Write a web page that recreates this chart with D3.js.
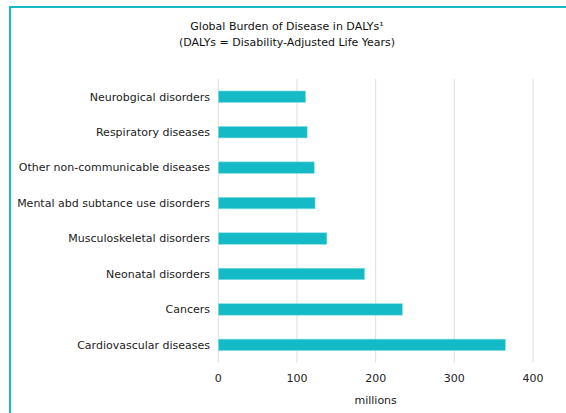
<!DOCTYPE html>
<html>
<head>
<meta charset="utf-8">
<script src="https://cdn.jsdelivr.net/npm/d3@7"></script>
<style>
  html, body { margin: 0; padding: 0; background: #fff; }
  svg { display: block; font-family: "DejaVu Sans", sans-serif; }
</style>
</head>
<body>
<svg id="chart" width="566" height="413"></svg>
<script>
// Causes of disease burden, listed top to bottom
const causes = [
  "Neurobgical disorders",
  "Respiratory diseases",
  "Other non-communicable diseases",
  "Mental abd subtance use disorders",
  "Musculoskeletal disorders",
  "Neonatal disorders",
  "Cancers",
  "Cardiovascular diseases"
];
// DALYs, millions
const dalys = [111, 113, 122, 123, 138, 186, 234, 365];
const xTicks = [0, 100, 200, 300, 400];
const titleLines = ["Global Burden of Disease in DALYs\u00B9", "(DALYs = Disability-Adjusted Life Years)"];
const xLabel = "millions";

const svg = d3.select("#chart");
const teal = "#14bac6";

// Frame around the panel
svg.append("rect")
  .attr("x", 10).attr("y", 7)
  .attr("width", 600).attr("height", 450)
  .attr("fill", "none").attr("stroke", teal).attr("stroke-width", 2);

const x = d3.scaleLinear().domain([0, 400]).range([218.3, 533]);
const y = d3.scaleBand().domain(causes).range([79, 362.6])
  .paddingInner(0.675).paddingOuter(0.3375);

// Vertical gridlines
svg.append("g").selectAll("line").data(xTicks).join("line")
  .attr("x1", d => x(d)).attr("x2", d => x(d))
  .attr("y1", 79).attr("y2", 362.6)
  .attr("stroke", "#dedede").attr("stroke-width", 1);

// Bars
svg.append("g").selectAll("rect").data(dalys).join("rect")
  .attr("x", x(0))
  .attr("y", (d, i) => y(causes[i]))
  .attr("width", d => x(d) - x(0))
  .attr("height", y.bandwidth())
  .attr("fill", teal)
  .attr("stroke", "#8ee0e6").attr("stroke-width", 0.6);

// Category labels
svg.append("g").selectAll("text").data(causes).join("text")
  .attr("x", 210)
  .attr("y", d => y(d) + y.bandwidth() / 2)
  .attr("dy", "0.35em")
  .attr("text-anchor", "end")
  .attr("font-size", 11)
  .attr("fill", "#222")
  .text(d => d);

// Tick labels
svg.append("g").selectAll("text").data(xTicks).join("text")
  .attr("x", d => x(d))
  .attr("y", 382)
  .attr("text-anchor", "middle")
  .attr("font-size", 11)
  .attr("fill", "#222")
  .text(d => d);

// Axis title
svg.append("text")
  .attr("x", x(200)).attr("y", 404)
  .attr("text-anchor", "middle")
  .attr("font-size", 11).attr("fill", "#222")
  .text(xLabel);

// Chart title
svg.append("g").selectAll("text").data(titleLines).join("text")
  .attr("x", 287)
  .attr("y", (d, i) => 30 + i * 15.5)
  .attr("text-anchor", "middle")
  .attr("font-size", 11)
  .attr("fill", "#111")
  .text(d => d);
</script>
</body>
</html>
